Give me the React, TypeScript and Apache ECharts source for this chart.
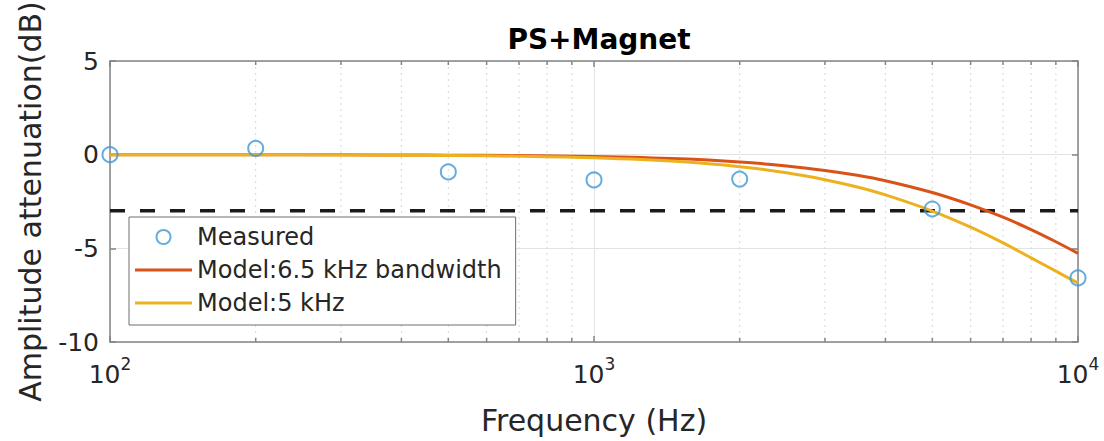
import React, { useEffect, useRef } from "react";
import * as echarts from "echarts";

const measuredFreq = [100, 200, 500, 1000, 2000, 5000, 10000];
const measuredDb = [0, 0.34, -0.92, -1.35, -1.3, -2.9, -6.58];

const modelFreq = [100, 150, 200, 300, 400, 500, 700, 1000, 1500, 2000, 2500, 3000, 3500, 4000, 5000, 6000, 7000, 8000, 9000, 10000];
const model65Db = [0, 0, -0.004, -0.01, -0.016, -0.026, -0.05, -0.1, -0.22, -0.39, -0.6, -0.84, -1.1, -1.39, -2.02, -2.68, -3.34, -4.0, -4.65, -5.27];
const model5Db = [0, -0.004, -0.007, -0.016, -0.028, -0.043, -0.085, -0.17, -0.37, -0.64, -0.97, -1.34, -1.73, -2.15, -3.01, -3.87, -4.71, -5.51, -6.22, -6.85];

const thresholdDb = -3;
const minorFreq = [200, 300, 400, 500, 600, 700, 800, 900, 2000, 3000, 4000, 5000, 6000, 7000, 8000, 9000];
const yTicks = { min: -10, max: 5, interval: 5 };
const xRange = { min: 100, max: 10000 };

const FONT = "DejaVu Sans";
const AXIS_COLOR = "#858585";
const TEXT_COLOR = "#262626";
const LINE_ICON = "path://M0,0 L57,0 L57,3 L0,3 Z";

export default function App() {
  const ref = useRef<HTMLDivElement>(null);
  useEffect(() => {
    document.body.style.margin = "0";
    const chart = echarts.init(ref.current!, null, { renderer: "svg" });
    const supLabel = (v: number) => {
      const e = Math.round(Math.log10(v));
      return "{b|10}{s|" + e + "}";
    };
    const axisLine = { show: true, onZero: false, lineStyle: { color: AXIS_COLOR, width: 1.5 } };
    const axisTick = { show: true, inside: true, length: 6, lineStyle: { color: AXIS_COLOR, width: 1.5 } };
    const baseX = {
      type: "log" as const,
      logBase: 10,
      min: xRange.min,
      max: xRange.max,
      axisLine,
      axisTick,
    };
    const baseY = {
      type: "value" as const,
      min: yTicks.min,
      max: yTicks.max,
      interval: yTicks.interval,
      axisLine,
      axisTick,
    };
    chart.setOption({
      animation: false,
      title: {
        text: "PS+Magnet",
        left: 594,
        textAlign: "center",
        top: 20,
        textStyle: { fontFamily: FONT, fontWeight: "bold", fontSize: 28, color: "#000" },
      },
      grid: { left: 110, right: 26, top: 61, bottom: 99, containLabel: false, outerBoundsMode: "none" },
      legend: {
        orient: "vertical",
        left: 129,
        top: 217,
        padding: [8, 14, 10, 6],
        itemGap: 9,
        itemWidth: 57,
        itemHeight: 14,
        borderColor: "#6e6e6e",
        borderWidth: 1,
        backgroundColor: "#fff",
        textStyle: { fontFamily: FONT, fontSize: 24, color: TEXT_COLOR, lineHeight: 24 },
        data: [
          { name: "Measured", icon: "circle" },
          { name: "Model:6.5 kHz bandwidth", icon: LINE_ICON, itemStyle: { color: "#D95319" } },
          { name: "Model:5 kHz", icon: LINE_ICON, itemStyle: { color: "#EDB120" } },
        ],
      },
      xAxis: [
        {
          ...baseX,
          name: "Frequency (Hz)",
          nameLocation: "middle",
          nameGap: 63,
          nameTextStyle: { fontFamily: FONT, fontSize: 30, color: TEXT_COLOR },
          axisLabel: {
            margin: 13,
            color: TEXT_COLOR,
            formatter: supLabel,
            rich: {
              b: { fontFamily: FONT, fontSize: 25, color: TEXT_COLOR, lineHeight: 32, verticalAlign: "bottom" },
              s: { fontFamily: FONT, fontSize: 17, color: TEXT_COLOR, lineHeight: 17, verticalAlign: "top" },
            },
          },
          splitLine: { show: true, lineStyle: { color: "#e3e3e3", width: 1 } },
        },
        {
          ...baseX,
          position: "top",
          axisLabel: { show: false },
          splitLine: { show: false },
        },
      ],
      yAxis: [
        {
          ...baseY,
          name: "Amplitude attenuation(dB)",
          nameLocation: "middle",
          nameGap: 65,
          nameTextStyle: { fontFamily: FONT, fontSize: 30, color: TEXT_COLOR },
          axisLabel: { margin: 11, fontFamily: FONT, fontSize: 25, color: TEXT_COLOR },
          splitLine: { show: true, lineStyle: { color: "#e3e3e3", width: 1 } },
        },
        {
          ...baseY,
          position: "right",
          axisLabel: { show: false },
          splitLine: { show: false },
        },
      ],
      series: [
        {
          type: "custom",
          name: "minor",
          z: 1,
          silent: true,
          clip: false,
          data: minorFreq.map((f) => [f, 0]),
          renderItem: (params: any, api: any) => {
            const v = api.value(0);
            const top = api.coord([v, yTicks.max]);
            const bot = api.coord([v, yTicks.min]);
            const x = top[0];
            return {
              type: "group",
              children: [
                { type: "line", shape: { x1: x, y1: top[1], x2: x, y2: bot[1] }, style: { stroke: "#d6d6d6", lineWidth: 1, lineDash: [2, 4] } },
                { type: "line", shape: { x1: x, y1: top[1], x2: x, y2: top[1] + 4 }, style: { stroke: AXIS_COLOR, lineWidth: 1.5 } },
                { type: "line", shape: { x1: x, y1: bot[1], x2: x, y2: bot[1] - 4 }, style: { stroke: AXIS_COLOR, lineWidth: 1.5 } },
              ],
            };
          },
        },
        {
          type: "line",
          name: "-3 dB",
          data: [[xRange.min, thresholdDb], [xRange.max, thresholdDb]],
          symbol: "none",
          z: 3,
          lineStyle: { color: "#1a1a1a", width: 3.5, type: [15, 15] },
        },
        {
          type: "line",
          name: "Model:6.5 kHz bandwidth",
          data: modelFreq.map((f, i) => [f, model65Db[i]]),
          symbol: "none",
          smooth: 0.3,
          z: 4,
          color: "#D95319",
          lineStyle: { color: "#D95319", width: 3 },
        },
        {
          type: "line",
          name: "Model:5 kHz",
          data: modelFreq.map((f, i) => [f, model5Db[i]]),
          symbol: "none",
          smooth: 0.3,
          z: 4,
          color: "#EDB120",
          lineStyle: { color: "#EDB120", width: 3 },
        },
        {
          type: "scatter",
          name: "Measured",
          data: measuredFreq.map((f, i) => [f, measuredDb[i]]),
          symbol: "circle",
          symbolSize: 15,
          z: 5,
          itemStyle: { color: "rgba(0,0,0,0)", borderColor: "#3d98d6", borderWidth: 2 },
        },
      ],
    });
    return () => chart.dispose();
  }, []);
  return <div ref={ref} style={{ width: 1104, height: 441 }} />;
}
